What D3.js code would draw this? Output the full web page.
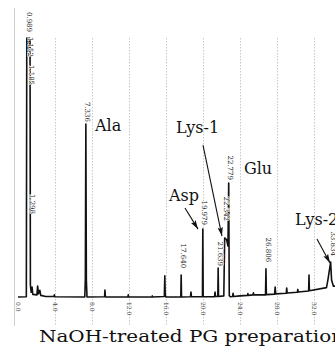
<!DOCTYPE html>
<html>
<head>
<meta charset="utf-8">
<script src="https://cdn.jsdelivr.net/npm/d3@7"></script>
<style>
  body { margin: 0; background: #fff; }
  svg { display: block; }
</style>
</head>
<body>
<div class="chart"></div>
<script>
// retention time (min) and detector signal of the trace
var times = [
  0.00, 0.90, 0.95, 1.00, 1.05, 1.10, 1.15, 1.20, 1.25, 1.30, 1.34, 1.42, 1.52, 1.60,
  2.05, 2.12, 2.22, 2.36, 2.46, 3.00,
  3.88, 3.93, 3.98, 7.22, 7.28, 7.336, 7.39, 7.46, 9.36, 9.40, 9.45, 11.88, 11.92, 11.96,
  14.48, 14.52, 14.56, 15.82, 15.87, 15.92, 15.97, 17.60, 17.64, 17.68, 18.65, 18.70, 18.75,
  19.94, 19.979, 20.02, 21.25, 21.30, 21.35, 21.60, 21.639, 21.68, 22.25, 22.342, 22.55,
  22.70, 22.779, 22.84, 22.95, 23.20, 23.25, 23.30, 24.00, 24.80, 24.85, 24.90, 25.40,
  25.45, 25.50, 26.76, 26.806, 26.85, 27.74, 27.80, 27.86, 29.00, 29.05, 29.10, 30.20,
  30.25, 30.30, 31.42, 31.46, 31.50, 33.35, 33.50, 33.80, 33.90, 34.10, 35.00
];
var signal = [
  4, 5, 1000, 950, 1000, 950, 1000, 950, 1000, 990, 50, 22, 42, 14,
  12, 46, 16, 30, 10, 6,
  6, 12, 5, 4, 75, 669, 70, 4, 5, 31, 4, 4, 12, 4,
  4, 8, 4, 6, 85, 14, 4, 4, 88, 4, 5, 23, 5,
  5, 265, 5, 5, 23, 6, 6, 115, 6, 8, 231, 225,
  200, 442, 10, 5, 6, 18, 6, 8, 10, 17, 10, 12,
  20, 12, 12, 112, 13, 15, 42, 16, 18, 38, 19, 22,
  33, 23, 27, 88, 28, 40, 69, 138, 69, 45, 48
];

var tickValues = [0, 4, 8, 12, 16, 20, 24, 28, 32];

// printed retention times and the signal level where each printed number ends
var peakLabels = ['0.989', '1.152', '1.185', '1.298', '7.336', '17.640', '19.979', '21.639', '22.342', '22.779', '26.806', '33.834'];
var peakLabelEnds = [1023, 927, 819, 323, 677, 115, 281, 123, 296, 454, 138, 162];

// compound names and their arrows (time, signal)
var compounds = ['Ala', 'Lys-1', 'Glu', 'Asp', 'Lys-2'];
var compoundTimes = [8.32, 17.08, 24.43, 16.32, 29.95];
var compoundLevels = [642, 635, 477, 373, 281];
var arrowFrom = [[20.0, 588], [18.05, 346], [32.32, 227]];
var arrowTo = [[22.05, 238], [19.46, 265], [33.73, 135]];

var width = 335, height = 350;

var svg = d3.select('.chart')
  .append('svg')
  .attr('width', width)
  .attr('height', height);

var xScale = d3.scaleLinear().domain([0, 32]).range([18, 314]);
var yScale = d3.scaleLinear().domain([0, 1000]).range([298, 38]);

svg.append('defs').append('marker')
  .attr('id', 'head')
  .attr('viewBox', '0 0 10 6')
  .attr('refX', 10).attr('refY', 3)
  .attr('markerWidth', 9).attr('markerHeight', 5.5)
  .attr('markerUnits', 'userSpaceOnUse')
  .attr('orient', 'auto')
  .append('path')
  .attr('d', 'M0,0L10,3L0,6L2,3Z')
  .attr('fill', '#111');

// frame line and dotted grid
svg.append('line')
  .attr('x1', 14.5).attr('x2', 14.5)
  .attr('y1', 8).attr('y2', 326)
  .attr('stroke', '#cfcfcf');

svg.selectAll('.grid')
  .data(tickValues.slice(1))
  .enter()
  .append('line')
  .attr('class', 'grid')
  .attr('x1', d => xScale(d) + 0.5).attr('x2', d => xScale(d) + 0.5)
  .attr('y1', yScale(1000)).attr('y2', 326)
  .attr('stroke', '#c8c8c8')
  .attr('stroke-dasharray', '1.5,1.5');

var xAxis = g => g
  .attr('transform', 'translate(0, 301)')
  .call(d3.axisBottom(xScale).tickValues(tickValues).tickFormat(d3.format('.1f')).tickSize(0))
  .call(g => g.select('.domain').remove())
  .call(g => g.selectAll('text')
    .attr('transform', 'rotate(90)')
    .attr('x', 1).attr('y', 0).attr('dy', '0.35em')
    .attr('text-anchor', 'start')
    .attr('font-family', 'DejaVu Serif')
    .attr('font-size', 6)
    .attr('fill', '#444'));

svg.append('g').call(xAxis);

var points = times.map((t, i) => [t, signal[i]]);

var line = d3.line()
  .x(d => xScale(d[0]))
  .y(d => yScale(d[1]));

svg.append('path')
  .attr('d', line(points))
  .attr('fill', 'none')
  .attr('stroke', '#111')
  .attr('stroke-width', 1.6)
  .attr('stroke-linejoin', 'round');

// printed peak times, rotated
svg.selectAll('.plabel')
  .data(peakLabels)
  .enter()
  .append('text')
  .attr('class', 'plabel')
  .attr('transform', (d, i) => `translate(${xScale(+d) + 2}, ${yScale(peakLabelEnds[i])}) rotate(90)`)
  .attr('text-anchor', 'end')
  .attr('dy', '0.35em')
  .attr('font-family', 'DejaVu Serif')
  .attr('font-size', 7)
  .attr('fill', '#222')
  .attr('stroke', '#fff')
  .attr('stroke-width', 1.2)
  .attr('paint-order', 'stroke')
  .text(d => d);

svg.selectAll('.arrow')
  .data(arrowFrom)
  .enter()
  .append('line')
  .attr('class', 'arrow')
  .attr('x1', d => xScale(d[0])).attr('y1', d => yScale(d[1]))
  .attr('x2', (d, i) => xScale(arrowTo[i][0])).attr('y2', (d, i) => yScale(arrowTo[i][1]))
  .attr('stroke', '#111')
  .attr('stroke-width', 1.1)
  .attr('marker-end', 'url(#head)');

svg.selectAll('.compound')
  .data(compounds)
  .enter()
  .append('text')
  .attr('class', 'compound')
  .attr('x', (d, i) => xScale(compoundTimes[i]))
  .attr('y', (d, i) => yScale(compoundLevels[i]))
  .attr('font-family', 'DejaVu Serif')
  .attr('font-size', 16)
  .attr('fill', '#111')
  .text(d => d);

svg.append('text')
  .attr('x', 39)
  .attr('y', 342)
  .attr('font-family', 'DejaVu Serif')
  .attr('font-size', 17)
  .attr('fill', '#111')
  .attr('textLength', 305)
  .attr('lengthAdjust', 'spacingAndGlyphs')
  .text('NaOH-treated PG preparation');
</script>
</body>
</html>
